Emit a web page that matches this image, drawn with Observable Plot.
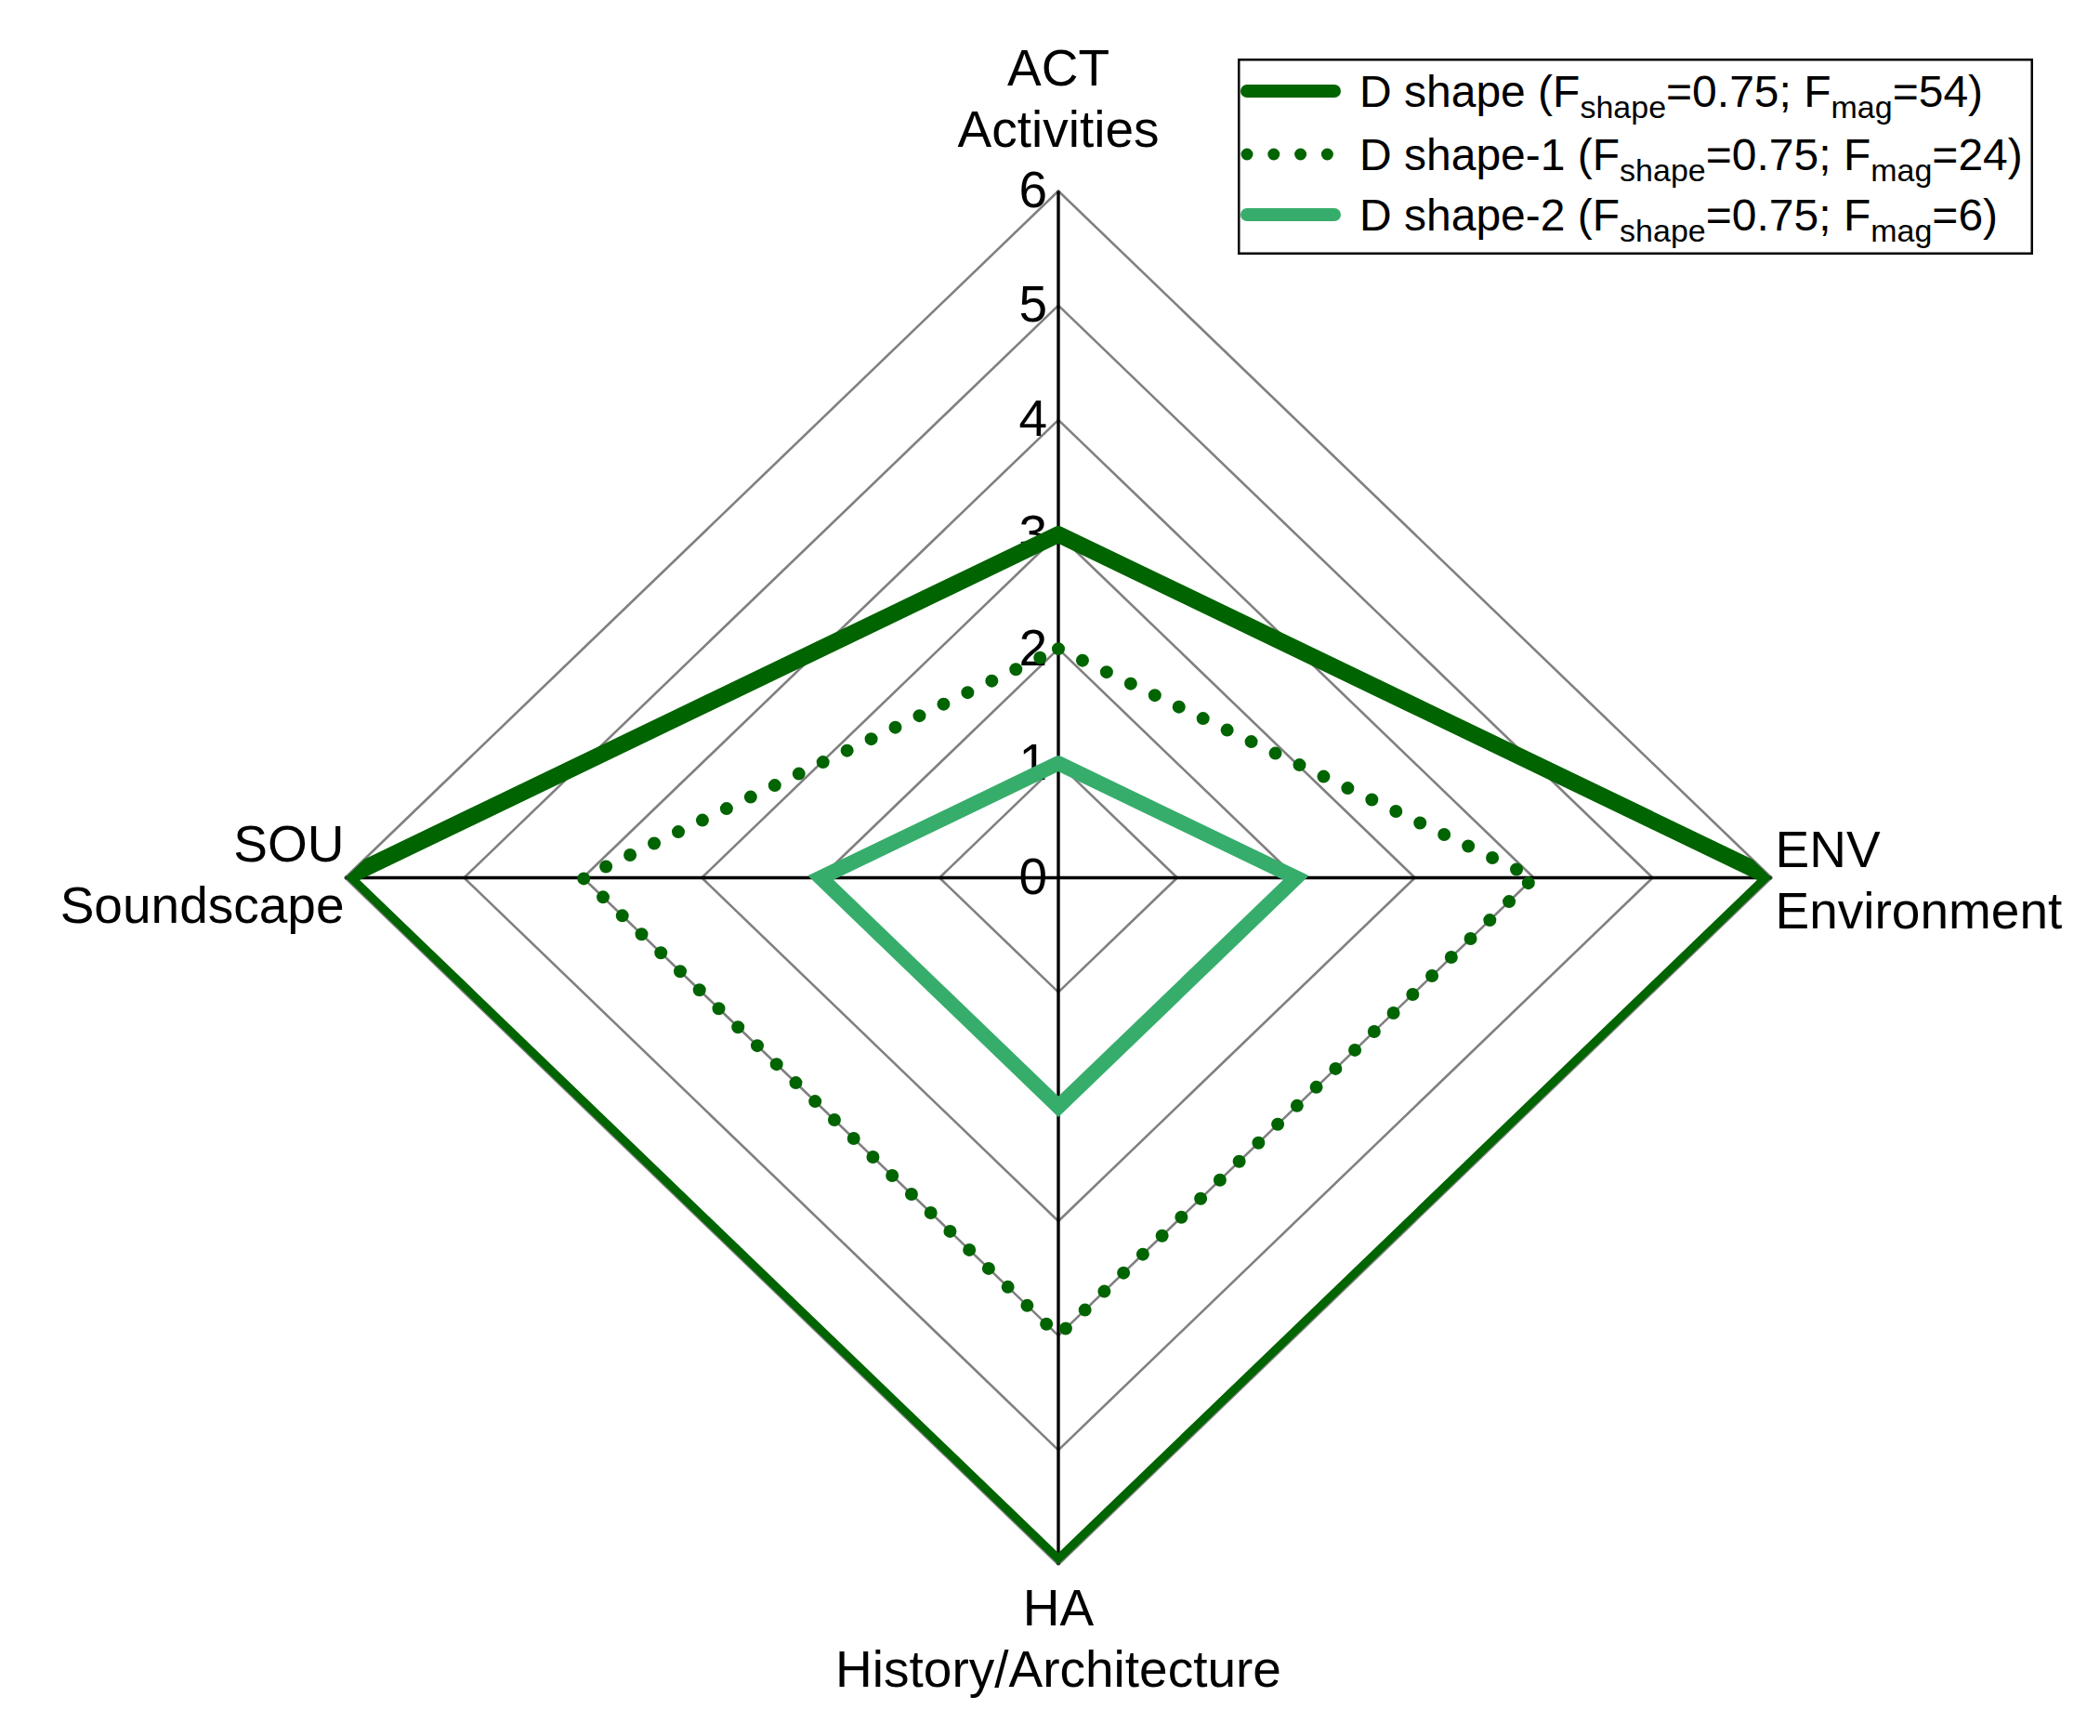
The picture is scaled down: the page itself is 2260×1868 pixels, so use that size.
<!DOCTYPE html>
<html>
<head>
<meta charset="utf-8">
<script src="https://cdn.jsdelivr.net/npm/d3@7"></script>
<script src="https://cdn.jsdelivr.net/npm/@observablehq/plot@0.6"></script>
<style>
  html, body { margin: 0; padding: 0; background: #ffffff; }
  #wrap { position: relative; width: 2260px; height: 1868px; font-family: "Liberation Sans", Arial, sans-serif; }
  #legend { position: absolute; left: 1332px; top: 63px; }
</style>
</head>
<body>
<div id="wrap"></div>
<script>
// ---- data ----
const categories = ["ACT", "ENV", "HA", "SOU"];
const categoryNames = ["Activities", "Environment", "History/Architecture", "Soundscape"];
const seriesNames = ["D shape", "D shape-1", "D shape-2"];
const fShape = [0.75, 0.75, 0.75];
const fMag = [54, 24, 6];
const dShape = [3, 6, 6, 6];
const dShape1 = [2, 4, 4, 4];
const dShape2 = [1, 2, 2, 2];
const tickValues = [0, 1, 2, 3, 4, 5, 6];
const maxValue = 6;

// ---- styles ----
const darkGreen = "#006400";
const lightGreen = "#37ad6c";
const gridGray = "#808080";
const dotGap = 28.8;

// direction of each spoke: ACT up, ENV right, HA down, SOU left
const dir = categories.map((c, i) => {
  const a = i * Math.PI / 2;
  return [Math.round(Math.sin(a) * 1e9) / 1e9, Math.round(Math.cos(a) * 1e9) / 1e9];
});
function polygon(vals, extra = {}) {
  const pts = vals.map((v, i) => ({x: v * dir[i][0], y: v * dir[i][1], ...extra}));
  pts.push({...pts[0]});
  return pts;
}
const rings = tickValues.filter(t => t > 0).flatMap(l => polygon(categories.map(() => l), {level: l}));
const spokes = categories.map((c, i) => ({x1: 0, y1: 0, x2: maxValue * dir[i][0], y2: maxValue * dir[i][1]}));
const labels = categories.map((c, i) => ({x: maxValue * dir[i][0], y: maxValue * dir[i][1], text: c + "\n" + categoryNames[i], key: c}));

const fs = 55;
function labelMark(key, opts) {
  return Plot.text(labels.filter(d => d.key === key), {
    x: "x", y: "y", text: "text", fontSize: fs, lineHeight: 1.2, fill: "#000", ...opts
  });
}

const plot = Plot.plot({
  width: 2260,
  height: 1868,
  marginLeft: 371,
  marginRight: 354,
  marginTop: 205,
  marginBottom: 185,
  x: {domain: [-maxValue, maxValue], axis: null},
  y: {domain: [-maxValue, maxValue], axis: null},
  style: {fontFamily: "'Liberation Sans', Arial, sans-serif", background: "#ffffff", overflow: "visible"},
  marks: [
    Plot.line(rings, {x: "x", y: "y", z: "level", stroke: gridGray, strokeWidth: 2.6}),
    Plot.link(spokes, {x1: "x1", y1: "y1", x2: "x2", y2: "y2", stroke: "#000", strokeWidth: 3.4}),
    Plot.text(tickValues, {x: 0, y: d => d, text: d => String(d), textAnchor: "end", dx: -12, fontSize: fs, fill: "#000"}),
    labelMark("ACT", {textAnchor: "middle", lineAnchor: "bottom", dy: -48}),
    labelMark("ENV", {textAnchor: "start", lineAnchor: "middle", dx: 4, dy: 0}),
    labelMark("HA", {textAnchor: "middle", lineAnchor: "top", dy: 19}),
    labelMark("SOU", {textAnchor: "end", lineAnchor: "middle", dx: -1, dy: -6}),
    Plot.line(polygon(dShape), {x: "x", y: "y", stroke: darkGreen, strokeWidth: 18, strokeLinejoin: "miter", strokeMiterlimit: 10}),
    Plot.line(polygon(dShape1), {x: "x", y: "y", stroke: darkGreen, strokeWidth: 14, strokeLinecap: "round", strokeDasharray: `0 ${dotGap}`}),
    Plot.line(polygon(dShape2), {x: "x", y: "y", stroke: lightGreen, strokeWidth: 16, strokeLinejoin: "miter", strokeMiterlimit: 10})
  ]
});

// clip the main series at the outer grid ring (as in the original figure)
(function clipOuter() {
  const sx = plot.scale("x"), sy = plot.scale("y");
  const ring = polygon(categories.map(() => maxValue)).slice(0, categories.length)
    .map(p => [sx.apply(p.x), sy.apply(p.y)]);
  const ns = "http://www.w3.org/2000/svg";
  const defs = document.createElementNS(ns, "defs");
  const cp = document.createElementNS(ns, "clipPath");
  cp.setAttribute("id", "outer-ring-clip");
  const poly = document.createElementNS(ns, "polygon");
  poly.setAttribute("points", ring.map(p => p.join(",")).join(" "));
  cp.appendChild(poly);
  defs.appendChild(cp);
  plot.insertBefore(defs, plot.firstChild);
  const g = plot.querySelector('g[stroke-width="18"]');
  if (g) g.setAttribute("clip-path", "url(#outer-ring-clip)");
})();

const wrap = document.getElementById("wrap");
wrap.appendChild(plot);

// ---- legend ----
const lgW = 856, lgH = 211;
const rowY = [35, 103, 168];
const lg = d3.select(wrap).append("svg")
  .attr("id", "legend").attr("width", lgW).attr("height", lgH)
  .style("font-family", "'Liberation Sans', Arial, sans-serif");
lg.append("rect").attr("x", 1.25).attr("y", 1.25).attr("width", lgW - 2.5).attr("height", lgH - 2.5)
  .attr("fill", "#fff").attr("stroke", "#000").attr("stroke-width", 2.5);
const sampleStyles = [
  {stroke: darkGreen, width: 14, dash: null, cap: "round"},
  {stroke: darkGreen, width: 13, dash: `0 ${dotGap}`, cap: "round"},
  {stroke: lightGreen, width: 14, dash: null, cap: "round"}
];
seriesNames.forEach((name, i) => {
  const s = sampleStyles[i];
  const ln = lg.append("line").attr("x1", 10).attr("x2", 104).attr("y1", rowY[i]).attr("y2", rowY[i])
    .attr("stroke", s.stroke).attr("stroke-width", s.width).attr("stroke-linecap", s.cap);
  if (s.dash) ln.attr("stroke-dasharray", s.dash);
  const t = lg.append("text").attr("x", 131).attr("y", rowY[i] + 17).attr("font-size", 48).attr("fill", "#000");
  t.append("tspan").text(`${name} (F`);
  t.append("tspan").attr("font-size", 34).attr("dy", 12).text("shape");
  t.append("tspan").attr("dy", -12).text(`=${fShape[i]}; F`);
  t.append("tspan").attr("font-size", 34).attr("dy", 12).text("mag");
  t.append("tspan").attr("dy", -12).text(`=${fMag[i]})`);
});
</script>
</body>
</html>
